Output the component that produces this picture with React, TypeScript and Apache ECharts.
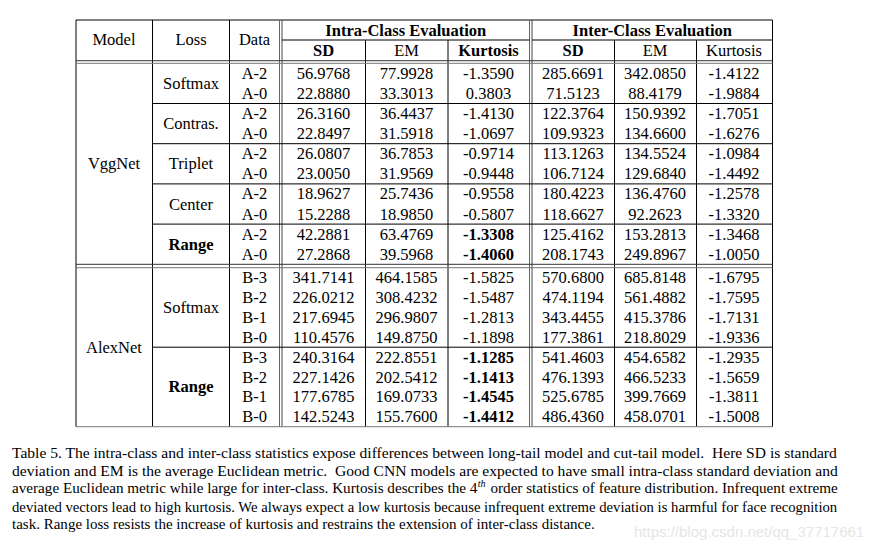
import React, { useEffect, useRef } from "react";
import * as echarts from "echarts";

// ---------- data ----------
const modelNames = ["VggNet", "AlexNet"];
const lossNames = ["Softmax", "Contras.", "Triplet", "Center", "Range", "Softmax", "Range"];
const lossRowCounts = [2, 2, 2, 2, 2, 4, 4];
const lossModel = [0, 0, 0, 0, 0, 1, 1];
const boldLosses = ["Range"];

const dataLabels = ["A-2", "A-0", "A-2", "A-0", "A-2", "A-0", "A-2", "A-0", "A-2", "A-0",
  "B-3", "B-2", "B-1", "B-0", "B-3", "B-2", "B-1", "B-0"];
const intraSD = [56.9768, 22.888, 26.316, 22.8497, 26.0807, 23.005, 18.9627, 15.2288, 42.2881, 27.2868,
  341.7141, 226.0212, 217.6945, 110.4576, 240.3164, 227.1426, 177.6785, 142.5243];
const intraEM = [77.9928, 33.3013, 36.4437, 31.5918, 36.7853, 31.9569, 25.7436, 18.985, 63.4769, 39.5968,
  464.1585, 308.4232, 296.9807, 149.875, 222.8551, 202.5412, 169.0733, 155.76];
const intraKurt = [-1.359, 0.3803, -1.413, -1.0697, -0.9714, -0.9448, -0.9558, -0.5807, -1.3308, -1.406,
  -1.5825, -1.5487, -1.2813, -1.1898, -1.1285, -1.1413, -1.4545, -1.4412];
const interSD = [285.6691, 71.5123, 122.3764, 109.9323, 113.1263, 106.7124, 180.4223, 118.6627, 125.4162, 208.1743,
  570.68, 474.1194, 343.4455, 177.3861, 541.4603, 476.1393, 525.6785, 486.436];
const interEM = [342.085, 88.4179, 150.9392, 134.66, 134.5524, 129.684, 136.476, 92.2623, 153.2813, 249.8967,
  685.8148, 561.4882, 415.3786, 218.8029, 454.6582, 466.5233, 399.7669, 458.0701];
const interKurt = [-1.4122, -1.9884, -1.7051, -1.6276, -1.0984, -1.4492, -1.2578, -1.332, -1.3468, -1.005,
  -1.6795, -1.7595, -1.7131, -1.9336, -1.2935, -1.5659, -1.3811, -1.5008];
const boldIntraKurtRows = [8, 9, 14, 15, 16, 17];

const headerFixed = ["Model", "Loss", "Data"];
const groupHeaders = ["Intra-Class Evaluation", "Inter-Class Evaluation"];
const subHeaders = ["SD", "EM", "Kurtosis", "SD", "EM", "Kurtosis"];
const subHeaderBold = [true, false, true, true, false, false];

const captionLines = [
  "Table 5. The intra-class and inter-class statistics expose differences between long-tail model and cut-tail model.  Here SD is standard",
  "deviation and EM is the average Euclidean metric.  Good CNN models are expected to have small intra-class standard deviation and",
  "average Euclidean metric while large for inter-class. Kurtosis describes the 4|th| order statistics of feature distribution. Infrequent extreme",
  "deviated vectors lead to high kurtosis. We always expect a low kurtosis because infrequent extreme deviation is harmful for face recognition",
  "task. Range loss resists the increase of kurtosis and restrains the extension of inter-class distance.",
];
const watermark = "https://blog.csdn.net/qq_37717661";

// ---------- layout ----------
const SERIF = "'Liberation Serif', 'Times New Roman', serif";
const SANS = "'Liberation Sans', Arial, sans-serif";
const TABLE_FONT = 16.5;
const L = 76, R = 772.5, TOP = 20, MID = 40;
const colLines = [152.5, 229.5];
const dblV = [[279.5, 282], [529.5, 532]];
const innerV = [365.5, 448, 614.5, 696.5];
const colCenters = [114, 191, 254.5, 323.5, 406.5, 488.5, 573, 655, 734];
const blocks = [
  { top: 63.3, bottom: 264.3, dbl: [60.7, 63.3] },
  { top: 267.7, bottom: 426.7, dbl: [264.3, 267.7] },
];
const captionX = 12;
const captionY = [452.5, 470.5, 488.5, 506.5, 524.5];
const captionRight = [838, 838, 838, 838, 595];

function measure(text: string, font: string): number {
  const c = document.createElement("canvas").getContext("2d")!;
  c.font = font;
  return c.measureText(text).width;
}

function txt(x: number, y: number, text: string, opts: any = {}) {
  return {
    type: "text",
    x,
    y,
    style: {
      text,
      fontSize: opts.size ?? TABLE_FONT,
      fontFamily: opts.family ?? SERIF,
      fontWeight: opts.bold ? "bold" : "normal",
      fontStyle: opts.italic ? "italic" : "normal",
      fill: opts.fill ?? "#000",
      align: opts.align ?? "center",
      verticalAlign: "middle",
      textAlign: opts.align ?? "center",
      textVerticalAlign: "middle",
    },
  };
}

function ln(x1: number, y1: number, x2: number, y2: number, stroke = "#000", w = 1) {
  return { type: "line", shape: { x1, y1, x2, y2 }, style: { stroke, lineWidth: w } };
}

function buildGraphics() {
  const g: any[] = [];
  const bottom = blocks[1].bottom;
  // borders
  g.push(ln(L, TOP, R, TOP));
  g.push(ln(L, TOP, L, bottom));
  g.push(ln(R, TOP, R, bottom));
  colLines.forEach((x) => g.push(ln(x, TOP, x, bottom)));
  dblV.forEach(([a, b]) => {
    g.push(ln(a, TOP, a, bottom, "#666"));
    g.push(ln(b, TOP, b, bottom, "#444"));
  });
  innerV.forEach((x) => g.push(ln(x, MID, x, bottom)));
  g.push(ln(dblV[0][1], MID, dblV[1][0], MID));
  g.push(ln(dblV[1][1], MID, R, MID));
  blocks.forEach((b) => {
    g.push(ln(L, b.dbl[0], R, b.dbl[0], "#333"));
    g.push(ln(L, b.dbl[1], R, b.dbl[1], "#777"));
  });
  g.push(ln(L, bottom, R, bottom, "#777"));

  // header
  headerFixed.forEach((h, i) => g.push(txt(colCenters[i], (TOP + blocks[0].dbl[0]) / 2 - 0.5, h)));
  g.push(txt((dblV[0][1] + dblV[1][0]) / 2, (TOP + MID) / 2, groupHeaders[0], { bold: true }));
  g.push(txt((dblV[1][1] + R) / 2, (TOP + MID) / 2, groupHeaders[1], { bold: true }));
  subHeaders.forEach((h, i) =>
    g.push(txt(colCenters[3 + i], (MID + blocks[0].dbl[0]) / 2, h, { bold: subHeaderBold[i] }))
  );

  // row positions
  const rowY: number[] = [];
  const rowsPerBlock = [0, 0];
  lossRowCounts.forEach((c, i) => (rowsPerBlock[lossModel[i]] += c));
  blocks.forEach((b, bi) => {
    const h = (b.bottom - b.top) / rowsPerBlock[bi];
    for (let r = 0; r < rowsPerBlock[bi]; r++) rowY.push(b.top + h * (r + 0.5));
  });
  const rowTop = (r: number) => {
    const bi = r < rowsPerBlock[0] ? 0 : 1;
    const b = blocks[bi];
    const h = (b.bottom - b.top) / rowsPerBlock[bi];
    const idx = bi === 0 ? r : r - rowsPerBlock[0];
    return b.top + h * idx;
  };

  // model labels
  blocks.forEach((b, bi) => g.push(txt(colCenters[0], (b.top + b.bottom) / 2, modelNames[bi])));

  // loss labels + separators
  let start = 0;
  lossNames.forEach((name, i) => {
    const end = start + lossRowCounts[i];
    const y0 = rowTop(start);
    const bi = lossModel[i];
    const y1 = end === rowsPerBlock[0] && bi === 0 ? blocks[0].bottom : end >= rowY.length ? blocks[1].bottom : rowTop(end);
    g.push(txt(colCenters[1], (y0 + y1) / 2, name, { bold: boldLosses.includes(name) }));
    const isLastInBlock = lossModel[i + 1] !== bi;
    if (!isLastInBlock) g.push(ln(colLines[0], y1, R, y1));
    start = end;
  });

  // values
  const cols = [intraSD, intraEM, intraKurt, interSD, interEM, interKurt];
  rowY.forEach((y, r) => {
    g.push(txt(colCenters[2], y, dataLabels[r]));
    cols.forEach((arr, ci) => {
      const bold = ci === 2 && boldIntraKurtRows.includes(r);
      g.push(txt(colCenters[3 + ci], y, arr[r].toFixed(4), { bold }));
    });
  });

  // caption
  const capSize = 15;
  const capFont = `${capSize}px ${SERIF}`;
  const supFont = `italic 10px ${SERIF}`;
  captionLines.forEach((line, i) => {
    const parts = line.split("|");
    const children: any[] = [];
    let x = 0;
    parts.forEach((p, pi) => {
      const isSup = pi % 2 === 1;
      const w = measure(p, isSup ? supFont : capFont);
      children.push({
        ...txt(x, isSup ? -5 : 0, p, { size: isSup ? 10 : capSize, italic: isSup, align: "left" }),
      });
      x += w + (isSup ? 1 : 0);
    });
    const target = captionRight[i] - captionX;
    g.push({ type: "group", x: captionX, y: captionY[i], scaleX: target / x, children });
  });

  // watermark
  g.push(txt(634, 531, watermark, { size: 15, family: SANS, fill: "#e6e6e6", align: "left" }));
  return g;
}

export default function App() {
  const ref = useRef<HTMLDivElement>(null);
  useEffect(() => {
    if (!ref.current) return;
    const chart = echarts.init(ref.current, undefined, { renderer: "svg" });
    chart.setOption({
      animation: false,
      backgroundColor: "#fff",
      graphic: { elements: buildGraphics() },
    });
    return () => chart.dispose();
  }, []);
  return (
    <div
      ref={ref}
      style={{ position: "absolute", left: 0, top: 0, width: 885, height: 549, background: "#fff" }}
    />
  );
}
